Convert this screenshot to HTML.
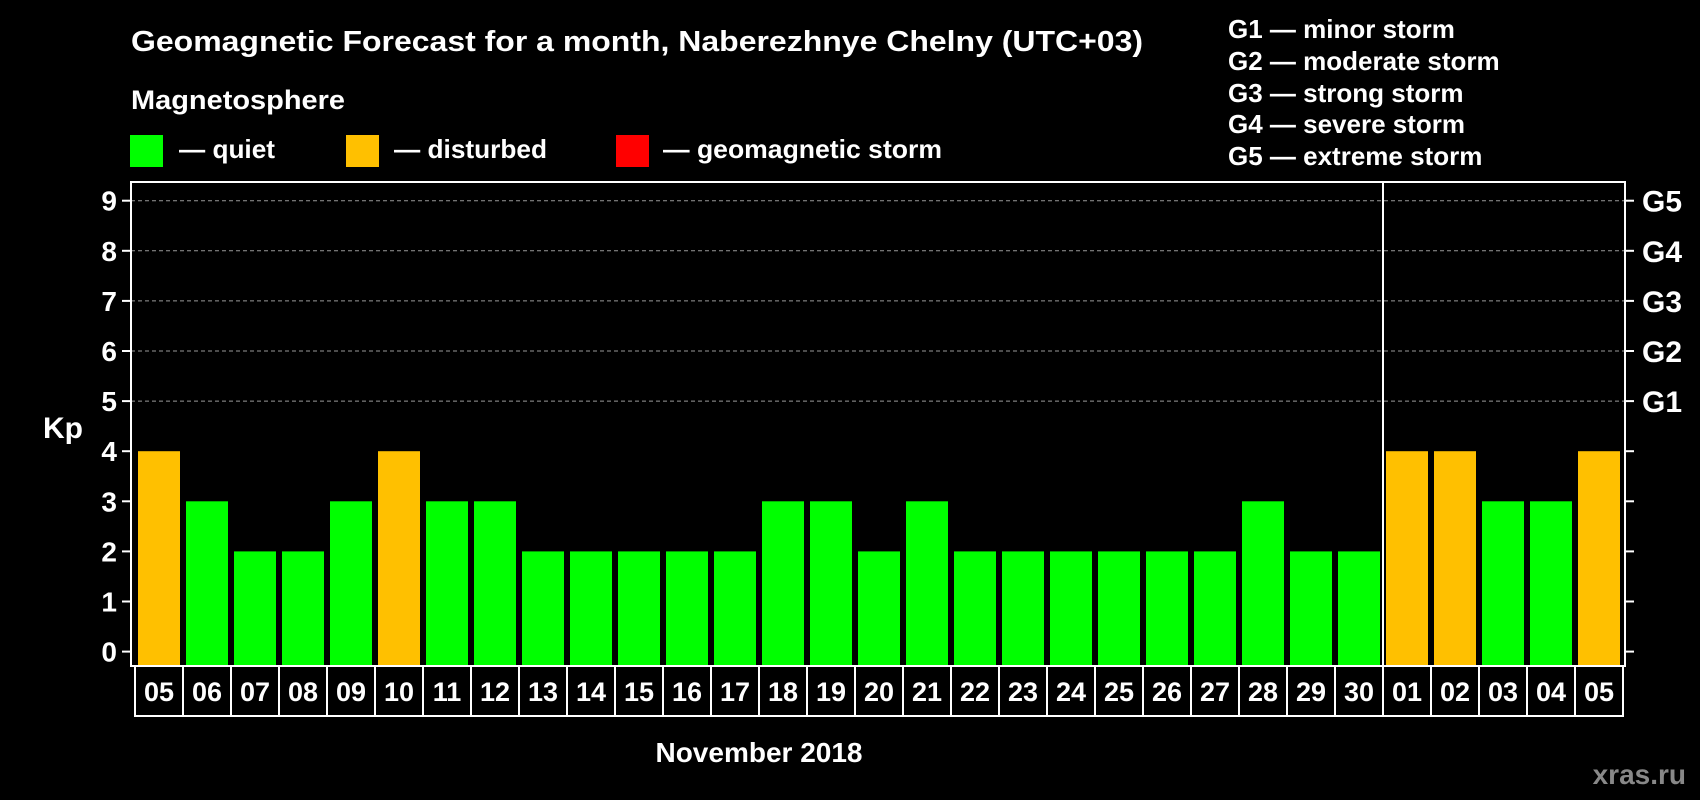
<!DOCTYPE html>
<html><head><meta charset="utf-8"><style>
html,body{margin:0;padding:0;background:#000;}
svg{display:block;font-family:"Liberation Sans",Arial,sans-serif;font-weight:bold;}
</style></head><body>
<svg id="chart" width="1700" height="800" viewBox="0 0 1700 800" xmlns="http://www.w3.org/2000/svg">
<rect width="1700" height="800" fill="#000"/>
<text x="131" y="51" fill="#fff" font-size="29" textLength="1012" lengthAdjust="spacingAndGlyphs">Geomagnetic Forecast for a month, Naberezhnye Chelny (UTC+03)</text>
<text x="131" y="109" fill="#fff" font-size="27" textLength="214" lengthAdjust="spacingAndGlyphs">Magnetosphere</text>
<g>
<rect x="130" y="135" width="33" height="32" fill="#00ff00"/>
<text x="179" y="158" fill="#fff" font-size="26" textLength="96" lengthAdjust="spacingAndGlyphs">— quiet</text>
<rect x="346" y="135" width="33" height="32" fill="#ffc000"/>
<text x="394" y="158" fill="#fff" font-size="26" textLength="153" lengthAdjust="spacingAndGlyphs">— disturbed</text>
<rect x="616" y="135" width="33" height="32" fill="#ff0000"/>
<text x="663" y="158" fill="#fff" font-size="26" textLength="279" lengthAdjust="spacingAndGlyphs">— geomagnetic storm</text>
</g>
<g fill="#fff" font-size="26">
<text x="1228" y="38">G1 — minor storm</text>
<text x="1228" y="70">G2 — moderate storm</text>
<text x="1228" y="102">G3 — strong storm</text>
<text x="1228" y="133">G4 — severe storm</text>
<text x="1228" y="165">G5 — extreme storm</text>
</g>
<text x="63" y="438" fill="#fff" font-size="30" text-anchor="middle">Kp</text>
<text x="759" y="762" fill="#fff" font-size="28" text-anchor="middle">November 2018</text>
<text x="1686" y="784" fill="#888" font-size="28" text-anchor="end">xras.ru</text>
<g id="grid"></g><g id="bars"></g><g id="axes"></g>
</svg>
<script>
const days = ["05","06","07","08","09","10","11","12","13","14","15","16","17","18","19","20","21","22","23","24","25","26","27","28","29","30","01","02","03","04","05"];
const kp = [4,3,2,2,3,4,3,3,2,2,2,2,2,3,3,2,3,2,2,2,2,2,2,3,2,2,4,4,3,3,4];
const yTicks = [0,1,2,3,4,5,6,7,8,9];
const gLabels = ["G1","G2","G3","G4","G5"];
const gLevels = [5,6,7,8,9];
const monthBreakIndex = 26;

const NS="http://www.w3.org/2000/svg";
const plotL=131, plotR=1625, plotT=182, plotB=666;
const x0=138, step=48, barW=42;
const y=v=>651.6-v*50.1;
const xb=i=>x0+i*step;
function mk(tag,attrs,parent){const e=document.createElementNS(NS,tag);for(const k in attrs)e.setAttribute(k,attrs[k]);parent.appendChild(e);return e;}
const grid=document.getElementById('grid'),bars=document.getElementById('bars'),axes=document.getElementById('axes');
function color(v){return v>=5?"#ff0000":(v>=4?"#ffc000":"#00ff00");}

gLevels.forEach((lv,i)=>{
  const l=mk('line',{x1:plotL,x2:plotR,y1:y(lv),y2:y(lv),stroke:"#999","stroke-width":1,"stroke-dasharray":"4,3"},grid);
  
  
  const t=mk('text',{x:1642,y:y(lv)+11,fill:"#fff","font-size":30},axes);
  t.textContent=gLabels[i];
  
  
});
kp.forEach((v,i)=>{
  const r=mk('rect',{x:xb(i),y:y(v),width:barW,height:plotB-y(v),fill:color(v)},bars);
  
  
});
const frame=mk('rect',{x:plotL,y:plotT,width:plotR-plotL,height:plotB-plotT,fill:"none",stroke:"#fff","stroke-width":2},axes);


const sep=mk('line',{x1:xb(monthBreakIndex)-3,x2:xb(monthBreakIndex)-3,y1:plotT,y2:plotB,stroke:"#fff","stroke-width":2},axes);


yTicks.forEach(v=>{
  const tl=mk('line',{x1:122,x2:plotL,y1:y(v),y2:y(v),stroke:"#fff","stroke-width":2},axes);
  
  
  const tr=mk('line',{x1:plotR,x2:1634,y1:y(v),y2:y(v),stroke:"#fff","stroke-width":2},axes);
  
  
  const t=mk('text',{x:117,y:y(v)+10,fill:"#fff","font-size":28,"text-anchor":"end"},axes);
  t.textContent=v;
  
  
});
days.forEach((d,i)=>{
  const bx=xb(i)-3;
  const r=mk('rect',{x:bx,y:plotB,width:step,height:50,fill:"none",stroke:"#fff","stroke-width":2},axes);
  
  
  const t=mk('text',{x:bx+step/2,y:plotB+35,fill:"#fff","font-size":27,"text-anchor":"middle"},axes);
  t.textContent=d;
  
  
});
</script>
</body></html>
